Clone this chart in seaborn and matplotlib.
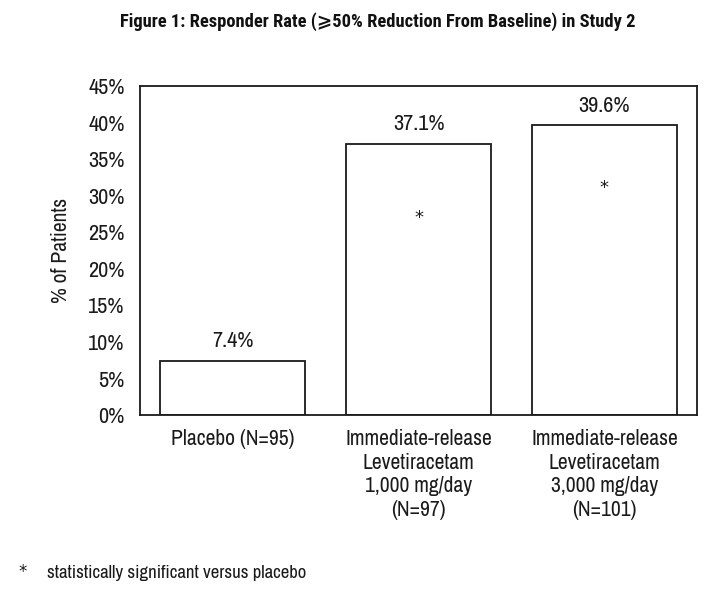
import numpy as np
import matplotlib
matplotlib.use("Agg")
import matplotlib.pyplot as plt
import seaborn as sns
import pandas as pd

# Datos
grupos = ["Placebo (N=95)",
          "Immediate-release\nLevetiracetam\n1,000 mg/day\n(N=97)",
          "Immediate-release\nLevetiracetam\n3,000 mg/day\n(N=101)"]
tasas = [7.4, 37.1, 39.6]
etiquetas = ["7.4%", "37.1%", "39.6%"]
asteriscos = [None, 27, 31]
yticks = [0, 5, 10, 15, 20, 25, 30, 35, 40, 45]

sns.set_style("white")
plt.rcParams["font.family"] = ["Archivo Narrow", "DejaVu Sans"]

df = pd.DataFrame({"Grupo": grupos, "Tasa": tasas})

fig = plt.figure(figsize=(7.13, 5.93), dpi=100)
ax = fig.add_axes([0.196, 0.300, 0.782, 0.555])

sns.barplot(x="Grupo", y="Tasa", data=df, ax=ax, color="white",
            edgecolor="#1a1a1a", linewidth=1.3, width=0.78)

ax.set_xlim(-0.5, 2.5)
ax.set_ylim(0, 45)
ax.set_yticks(yticks)
ax.set_yticklabels([f"{t}%" for t in yticks], fontsize=16, color="#1a1a1a")
ax.tick_params(axis="y", direction="out", length=5, width=1.3, color="#1a1a1a", pad=6)
ax.tick_params(axis="x", length=0, labelsize=15.5, labelcolor="#1a1a1a", pad=10)
for lab in ax.get_xticklabels():
    lab.set_linespacing(1.22)
ax.set_xlabel("")
ax.set_ylabel("% of Patients", fontsize=15.5, labelpad=12, color="#1a1a1a")
for s in ax.spines.values():
    s.set_visible(True)
    s.set_color("#1a1a1a")
    s.set_linewidth(1.3)

for i, (v, lab) in enumerate(zip(tasas, etiquetas)):
    ax.annotate(lab, (i, v), xytext=(0, 7), textcoords="offset points",
                ha="center", va="bottom", fontsize=16, color="#1a1a1a")
    if asteriscos[i] is not None:
        ax.text(i, asteriscos[i], "*", ha="center", va="center", fontsize=13,
                color="#1a1a1a", family="DejaVu Sans")

fig.text(0.53, 0.963, "Figure 1: Responder Rate (\u2a7e50% Reduction From Baseline) in Study 2",
         ha="center", va="center", fontsize=13.3, fontweight="bold", color="#111111",
         family=["Roboto Condensed", "IBM Plex Sans Condensed", "DejaVu Sans"])
fig.text(0.026, 0.036, "*", fontsize=12, va="center", color="#1a1a1a", family="DejaVu Sans")
fig.text(0.066, 0.033, "statistically significant versus placebo", fontsize=13.5, va="center", color="#1a1a1a")

plt.savefig("out.png", dpi=100)
